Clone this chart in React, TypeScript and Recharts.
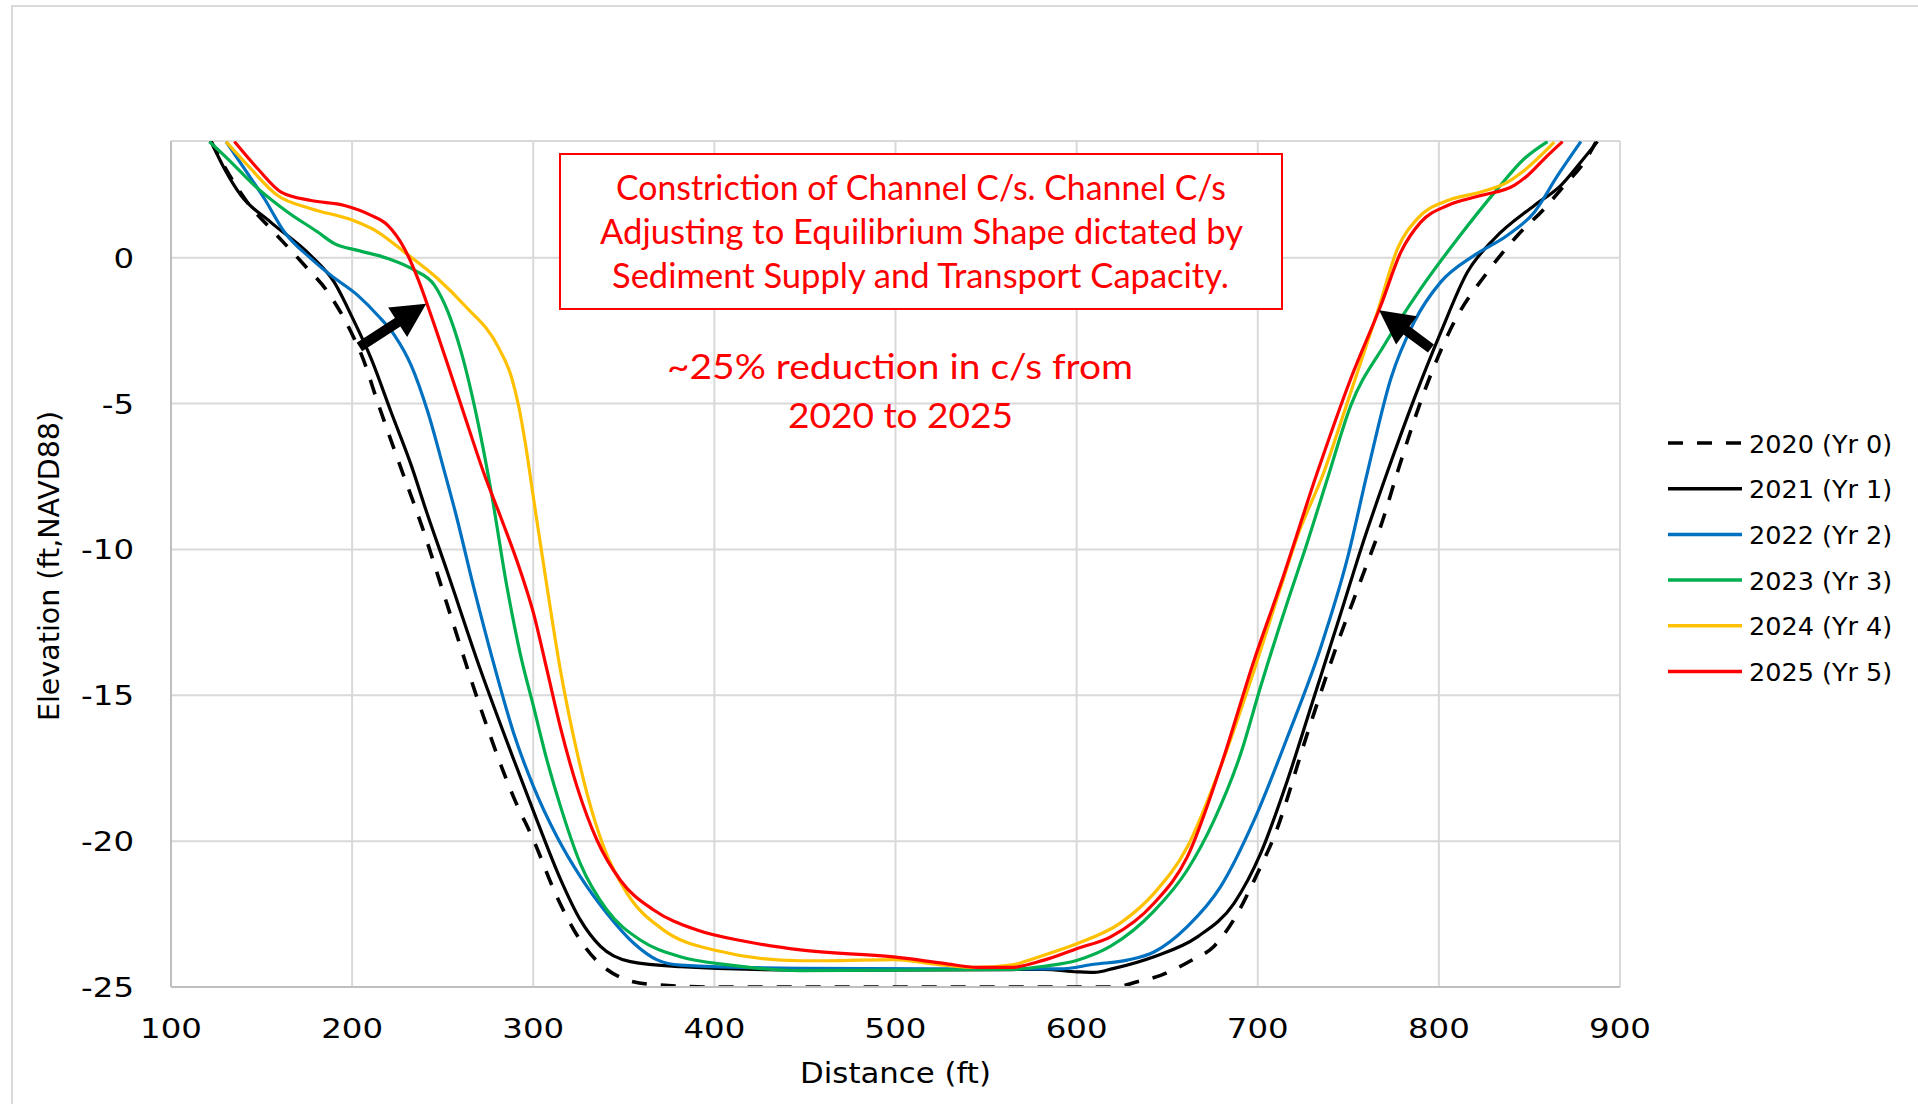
import React from 'react';
import { LineChart, Line, XAxis, YAxis, CartesianGrid, Legend, ReferenceLine, Label } from 'recharts';

// ---------- data ----------
const xTicks = [100, 200, 300, 400, 500, 600, 700, 800, 900];
const yTicks = [-25, -20, -15, -10, -5, 0];

const seriesNames = ['2020 (Yr 0)', '2021 (Yr 1)', '2022 (Yr 2)', '2023 (Yr 3)', '2024 (Yr 4)', '2025 (Yr 5)'];

const dist2020 = [122, 131.3, 144.2, 155, 173.7, 186.6, 199.4, 206, 214, 225, 238.5, 252.3, 270.7, 289.2, 300.2, 313, 326, 340.7, 362.8, 400, 500, 620.6, 633.5, 646.4, 663, 675.9, 688.8, 699.8, 709, 727.4, 744, 756.9, 769, 777.2, 791.9, 808.5, 826.9, 843.5, 858.2, 869.3, 880.3, 886.7];
const elev2020 = [4.0, 2.93, 1.73, 1.0, -0.26, -1.18, -2.55, -3.46, -4.94, -6.88, -9.2, -11.86, -15.4, -18.5, -19.97, -21.9, -23.4, -24.4, -24.9, -25.0, -25.0, -25.0, -24.82, -24.6, -24.1, -23.6, -22.48, -21.11, -19.85, -16.31, -13.23, -11.06, -9.0, -7.34, -4.6, -2.2, -0.49, 0.77, 1.68, 2.48, 3.28, 3.96];

const dist2021 = [122, 129.5, 138.7, 155, 177, 190, 200.4, 210.5, 221.5, 232.6, 241.3, 252.3, 270.7, 289.2, 302, 315, 326, 337, 353.6, 381.3, 447.5, 582, 600.4, 609.6, 620.6, 642.7, 666.7, 686.9, 701.6, 716.4, 731.1, 745.8, 756.9, 771.6, 786.4, 801.1, 815.8, 830.6, 852.7, 867.4, 878.4, 887.6];
const elev2021 = [4.0, 3.05, 2.13, 1.22, 0.08, -0.83, -2.09, -3.46, -5.29, -7.11, -8.75, -10.72, -14.1, -17.2, -19.28, -21.3, -22.7, -23.6, -24.13, -24.3, -24.42, -24.4, -24.48, -24.5, -24.36, -23.96, -23.28, -22.13, -20.42, -17.91, -15.06, -12.2, -10.0, -7.34, -4.83, -2.55, -0.49, 0.65, 1.79, 2.48, 3.28, 3.98];

const dist2022 = [130.4, 140.5, 151.6, 162.6, 177.3, 188.4, 203.1, 214.2, 223.4, 232.6, 241.8, 251, 256.9, 267.1, 278.1, 289.2, 300.2, 313.1, 326, 340.7, 355.5, 368.4, 381.2, 447.5, 520, 591, 609.6, 628, 642.7, 661.1, 679.5, 698, 716.4, 734.8, 749.5, 760.6, 773.5, 786.4, 801.1, 819.5, 837.9, 852.7, 865.6, 878.4];
const elev2022 = [3.98, 3.05, 2.02, 0.88, -0.03, -0.61, -1.29, -1.98, -2.66, -3.69, -5.29, -7.34, -8.7, -11.29, -13.9, -16.3, -18.14, -19.85, -21.22, -22.48, -23.5, -24.07, -24.25, -24.36, -24.38, -24.38, -24.22, -24.08, -23.8, -22.93, -21.56, -19.28, -16.43, -13.35, -10.31, -7.34, -4.14, -2.2, -0.83, 0.08, 0.77, 1.56, 2.82, 3.98];

const dist2023 = [121.2, 131.3, 146, 164.5, 181, 190.2, 203.1, 219.7, 234.4, 245.5, 252.9, 260.2, 269.4, 276.8, 285.5, 292.8, 300.2, 307.6, 315, 326, 340.7, 359.1, 381.2, 408.9, 447.5, 563.5, 581.9, 600.4, 618.8, 642.7, 661.1, 675.9, 690.6, 701.6, 716.4, 725.6, 738.5, 751.4, 769.8, 790, 810.3, 832.4, 847.1, 860];
const elev2023 = [3.98, 3.39, 2.48, 1.56, 0.88, 0.48, 0.25, -0.03, -0.43, -0.95, -1.86, -3.23, -5.63, -8.03, -11.29, -13.57, -15.4, -17.23, -18.8, -20.77, -22.36, -23.39, -23.96, -24.25, -24.44, -24.4, -24.29, -24.08, -23.6, -22.4, -20.99, -19.28, -17.0, -14.7, -11.8, -10.1, -7.57, -5.06, -3.0, -1.06, 0.65, 2.36, 3.39, 3.98];

const dist2024 = [130.4, 142.4, 158.9, 177.3, 200.4, 214.2, 228.9, 247.3, 262, 281, 288, 292, 295.2, 300.7, 307.6, 315, 322.3, 329.7, 338.9, 351.8, 372, 399.7, 447.5, 462.2, 499, 526.7, 545.1, 563.5, 581.9, 600.4, 624.3, 642.7, 661.1, 679.5, 698, 712.7, 721.9, 736.6, 751.4, 766.1, 777.2, 788.2, 804.8, 823.2, 837.9, 847.1, 863.7];
const elev2024 = [3.98, 3.16, 2.13, 1.68, 1.28, 0.88, 0.19, -0.72, -1.63, -3.1, -4.1, -5.1, -6.2, -8.48, -11.29, -14.14, -16.43, -18.37, -20.2, -21.79, -23.05, -23.73, -24.1, -24.1, -24.06, -24.25, -24.33, -24.25, -23.91, -23.51, -22.8, -21.79, -20.2, -17.45, -14.14, -11.29, -9.55, -7.34, -4.6, -1.86, 0.31, 1.34, 1.96, 2.25, 2.59, 2.99, 3.96];

const dist2025 = [135, 147.9, 160.8, 177.3, 195.8, 210.5, 219.7, 228.9, 236.3, 243.6, 252.9, 262, 273.1, 282.7, 292.8, 300.2, 307.6, 315, 324.2, 335.2, 348.1, 366.5, 390.4, 418.1, 447.5, 499, 526.7, 545.1, 563.5, 581.9, 600.4, 618.8, 642.7, 661.1, 679.5, 698, 712.7, 733, 751.4, 768, 779, 790, 804.8, 823.2, 841.6, 849, 858.2, 868.3];
const elev2025 = [3.98, 3.05, 2.25, 1.96, 1.79, 1.45, 1.11, 0.31, -0.72, -1.98, -3.69, -5.4, -7.45, -9.0, -10.72, -12.2, -14.14, -16.1, -18.14, -19.97, -21.34, -22.36, -23.05, -23.45, -23.73, -23.97, -24.19, -24.33, -24.33, -24.08, -23.68, -23.28, -22.13, -20.54, -17.45, -13.8, -11.18, -7.34, -4.14, -1.63, 0.19, 1.22, 1.79, 2.13, 2.48, 2.82, 3.39, 3.98];

// arrows (data coordinates: distance, elevation)
const arrowLeft = [{ x: 204.0, y: -3.06 }, { x: 240.9, y: -1.58 }];
const arrowRight = [{ x: 795.6, y: -3.11 }, { x: 767.0, y: -1.8 }];

const boxLines = [
  'Constriction of Channel C/s. Channel C/s',
  'Adjusting to Equilibrium Shape dictated by',
  'Sediment Supply and Transport Capacity.',
];
const noteLines = ['~25% reduction in c/s from', '2020 to 2025'];

// ---------- styles ----------
const seriesColors = ['#000000', '#000000', '#0070C0', '#00B050', '#FFC000', '#FF0000'];
const seriesDash = ['15 14', undefined, undefined, undefined, undefined, undefined];
const seriesWidth = [3.6, 3.2, 3.2, 3.2, 3.2, 3.2];

const FONT = '"DejaVu Sans", Verdana, sans-serif';
const NOTE_FONT = 'Lato, "Open Sans", sans-serif';

const toPoints = (xs: number[], ys: number[]) => xs.map((x, i) => ({ x, y: ys[i] }));
const series = [
  toPoints(dist2020, elev2020),
  toPoints(dist2021, elev2021),
  toPoints(dist2022, elev2022),
  toPoints(dist2023, elev2023),
  toPoints(dist2024, elev2024),
  toPoints(dist2025, elev2025),
];

const XTick = (p: any) => (
  <g transform={`translate(${p.x},${p.y + 51})`}>
    <text transform="scale(1.2,1)" textAnchor="middle" fontFamily={FONT} fontSize={27} fill="#000">
      {p.payload.value}
    </text>
  </g>
);

const YTick = (p: any) => (
  <g transform={`translate(${p.x - 37},${p.y + 10})`}>
    <text transform="scale(1.2,1)" textAnchor="end" fontFamily={FONT} fontSize={27} fill="#000">
      {p.payload.value}
    </text>
  </g>
);

const Arrow = (p: any) => {
  const x1 = Number(p.x1), y1 = Number(p.y1), x2 = Number(p.x2), y2 = Number(p.y2);
  if (!isFinite(x1) || !isFinite(x2)) return <g />;
  const dx = x2 - x1, dy = y2 - y1;
  const len = Math.hypot(dx, dy) || 1;
  const ux = dx / len, uy = dy / len;
  const px = -uy, py = ux;
  const head = 34, hw = 17.5, sw = 5;
  const bx = x2 - ux * head, by = y2 - uy * head;
  const pts = [
    [x1 + px * sw, y1 + py * sw],
    [bx + px * sw, by + py * sw],
    [bx + px * hw, by + py * hw],
    [x2, y2],
    [bx - px * hw, by - py * hw],
    [bx - px * sw, by - py * sw],
    [x1 - px * sw, y1 - py * sw],
  ];
  return <polygon points={pts.map((q) => q.join(',')).join(' ')} fill="#000" />;
};

const renderLegend = (props: any) => {
  const payload = props && props.payload ? props.payload : [];
  const items = seriesNames.map((name, i) => {
    const entry = payload.find((e: any) => e.value === name);
    return { name, color: entry ? entry.color : seriesColors[i], dash: seriesDash[i] };
  });
  return (
    <svg width={258} height={280} style={{ display: 'block' }}>
      {items.map((it, i) => {
        const cy = 23 + i * 45.7;
        return (
          <g key={it.name}>
            <line x1={8} x2={82} y1={cy} y2={cy} stroke={it.color} strokeWidth={3.5} strokeDasharray={it.dash} />
            <text x={89} y={cy + 9.5} fontFamily={FONT} fontSize={25.5} fill="#000">
              {it.name}
            </text>
          </g>
        );
      })}
    </svg>
  );
};

const YTitle = (p: any) => {
  const vb = p && p.viewBox && isFinite(p.viewBox.x) ? p.viewBox : { x: 11, y: 141, width: 160, height: 846 };
  const cx = vb.x + 38;
  const cy = vb.y + vb.height / 2 + 2;
  return (
    <text
      x={cx}
      y={cy}
      transform={`rotate(-90 ${cx} ${cy})`}
      textAnchor="middle"
      dominantBaseline="central"
      fontFamily={FONT}
      fontSize={28.5}
      fill="#000"
    >
      Elevation (ft,NAVD88)
    </text>
  );
};

const XTitle = (p: any) => {
  const vb = p && p.viewBox && isFinite(p.viewBox.x) ? p.viewBox : { x: 171, y: 987, width: 1449, height: 100 };
  const cx = vb.x + vb.width / 2;
  const cy = vb.y + 96;
  return (
    <g transform={`translate(${cx},${cy})`}>
      <text transform="scale(1.1,1)" textAnchor="middle" fontFamily={FONT} fontSize={28} fill="#000">
        Distance (ft)
      </text>
    </g>
  );
};

export default function App() {
  return (
    <div style={{ position: 'absolute', left: 0, top: 0, width: 1918, height: 1104, overflow: 'hidden', background: '#fff' }}>
      <div
        style={{
          position: 'absolute',
          left: 11,
          top: 5,
          width: 3000,
          height: 3000,
          border: '2px solid #D9D9D9',
        }}
      />
      <div style={{ position: 'absolute', left: 0, top: 0 }}>
        <LineChart width={1918} height={1104} margin={{ top: 141, right: 298, bottom: 17, left: 11 }}>
          <CartesianGrid stroke="#D9D9D9" strokeWidth={2} />
          <XAxis
            type="number"
            dataKey="x"
            domain={[100, 900]}
            ticks={xTicks}
            allowDataOverflow
            height={100}
            axisLine={{ stroke: '#BFBFBF', strokeWidth: 2 }}
            tickLine={false}
            tickSize={0}
            tickMargin={0}
            tick={(p: any) => <XTick {...p} />}
            interval={0}
          >
            <Label content={(p: any) => <XTitle {...p} />} />
          </XAxis>
          <YAxis
            type="number"
            dataKey="y"
            domain={[-25, 4]}
            ticks={yTicks}
            allowDataOverflow
            width={160}
            axisLine={{ stroke: '#BFBFBF', strokeWidth: 2 }}
            tickLine={false}
            tickSize={0}
            tickMargin={0}
            tick={(p: any) => <YTick {...p} />}
            interval={0}
          >
            <Label content={(p: any) => <YTitle {...p} />} />
          </YAxis>
          {series.map((data, i) => (
            <Line
              key={seriesNames[i]}
              data={data}
              dataKey="y"
              name={seriesNames[i]}
              type="monotone"
              stroke={seriesColors[i]}
              strokeWidth={seriesWidth[i]}
              strokeDasharray={seriesDash[i]}
              dot={false}
              activeDot={false}
              isAnimationActive={false}
            />
          ))}
          <ReferenceLine segment={arrowLeft} shape={(p: any) => <Arrow {...p} />} ifOverflow="visible" />
          <ReferenceLine segment={arrowRight} shape={(p: any) => <Arrow {...p} />} ifOverflow="visible" />
          <Legend
            layout="vertical"
            align="center"
            verticalAlign="middle"
            content={renderLegend}
            wrapperStyle={{ position: 'absolute', left: 1660, top: 420, width: 258, height: 280 }}
          />
        </LineChart>
      </div>
      <svg
        width={1918}
        height={1104}
        style={{ position: 'absolute', left: 0, top: 0, pointerEvents: 'none' }}
      >
        <rect x={560} y={154} width={722} height={155} fill="#fff" stroke="#FF0000" strokeWidth={2} />
        <text x={921} y={199.5} textAnchor="middle" fontFamily={NOTE_FONT} fontSize={34} fill="#FF0000" textLength={610} lengthAdjust="spacingAndGlyphs">
          {boxLines[0]}
        </text>
        <text x={921.5} y={243.5} textAnchor="middle" fontFamily={NOTE_FONT} fontSize={34} fill="#FF0000" textLength={643} lengthAdjust="spacingAndGlyphs">
          {boxLines[1]}
        </text>
        <text x={920.5} y={288} textAnchor="middle" fontFamily={NOTE_FONT} fontSize={34} fill="#FF0000" textLength={617} lengthAdjust="spacingAndGlyphs">
          {boxLines[2]}
        </text>
        <text x={900} y={378.5} textAnchor="middle" fontFamily={NOTE_FONT} fontSize={35} fill="#FF0000" textLength={466} lengthAdjust="spacingAndGlyphs">
          {noteLines[0]}
        </text>
        <text x={900.5} y={427.5} textAnchor="middle" fontFamily={NOTE_FONT} fontSize={35} fill="#FF0000" textLength={225} lengthAdjust="spacingAndGlyphs">
          {noteLines[1]}
        </text>
      </svg>
    </div>
  );
}
